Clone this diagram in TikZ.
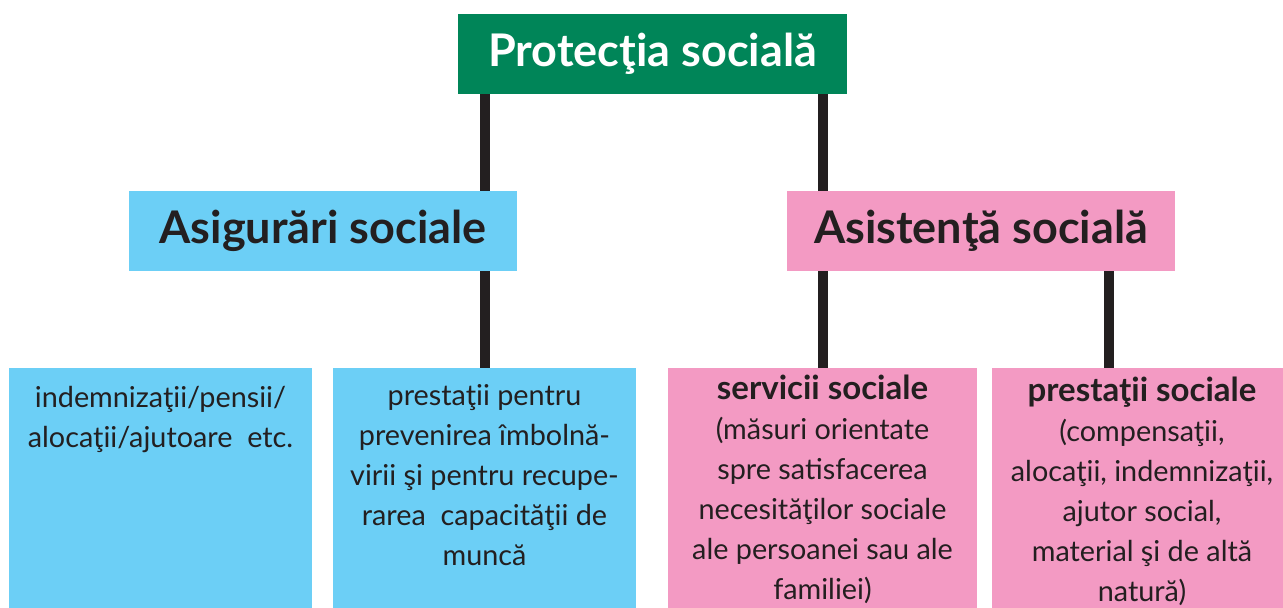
\documentclass[tikz,border=0pt]{standalone}
\usepackage{fontspec}
\setmainfont{Lato}
\usetikzlibrary{positioning}
\definecolor{protgreen}{RGB}{0,133,88}
\definecolor{asigblue}{RGB}{108,207,246}
\definecolor{asistpink}{RGB}{243,154,195}
\definecolor{inkdark}{RGB}{35,31,32}
\newcommand{\boxhead}[1]{{\fontsize{16.5}{20}\selectfont\bfseries #1}}

\begin{document}
\begin{tikzpicture}[
    x=0.5pt, y=-0.5pt,
    headbox/.style={rectangle, inner sep=0pt, minimum width=194pt, minimum height=40pt, text=inkdark, font=\fontsize{22.5}{26}\selectfont\bfseries},
    lowbox/.style={rectangle, inner sep=0pt, minimum height=120pt},
    lowtext/.style={anchor=north, inner sep=0pt, align=center, text=inkdark, font=\fontsize{14.4}{20}\selectfont},
    link/.style={draw=inkdark, line width=5pt}
]
\useasboundingbox (0,0) rectangle (1283,608);

% Level 1: Protectia sociala
\node[headbox, fill=protgreen, text=white, minimum width=194.5pt] (prot) at (652.5,54) {Protecţia socială};

% Level 2
\node[headbox, fill=asigblue] (asig) at (323,231) {Asigurări sociale};
\node[headbox, fill=asistpink] (asist) at (981,231) {Asistenţă socială};

% Level 3: Asigurari
\node[lowbox, fill=asigblue, minimum width=151.5pt] (indem) at (160.5,488) {};
\node[lowtext] (indemtxt) at ([yshift=-5.5pt]indem.north) {\strut indemnizaţii/pensii/\\alocaţii/ajutoare~ etc.};
\node[lowbox, fill=asigblue, minimum width=151.5pt] (prev) at (484.5,488) {};
\node[lowtext] (prevtxt) at ([yshift=-4.5pt]prev.north) {\strut prestaţii pentru\\prevenirea îmbolnă-\\virii şi pentru recupe-\\rarea~ capacităţii de\\muncă};

% Level 3: Asistenta
\node[lowbox, fill=asistpink, minimum width=154.5pt] (serv) at (822.5,488) {};
\node[lowtext] (servtxt) at ([yshift=-1.5pt]serv.north) {\strut\boxhead{servicii sociale}\\(măsuri orientate\\spre satisfacerea\\necesităţilor sociale\\ale persoanei sau ale\\familiei)};
\node[lowbox, fill=asistpink, minimum width=150pt] (prest) at (1142,488) {};
\node[lowtext] (presttxt) at ([yshift=-2.5pt]prest.north) {\strut\boxhead{prestaţii sociale}\\(compensaţii,\\alocaţii, indemnizaţii,\\ajutor social,\\material şi de altă\\natură)};
\coordinate (prestlink) at ([xshift=-16.5pt]prest.north);

% Connectors
\draw[link] (prot.south -| prev.north) -- (asig.north -| prev.north);
\draw[link] (prot.south -| serv.north) -- (asist.north -| serv.north);
\draw[link] (asig.south -| prev.north) -- (prev.north);
\draw[link] (asist.south -| serv.north) -- (serv.north);
\draw[link] (asist.south -| prestlink) -- (prestlink);

\end{tikzpicture}
\end{document}
